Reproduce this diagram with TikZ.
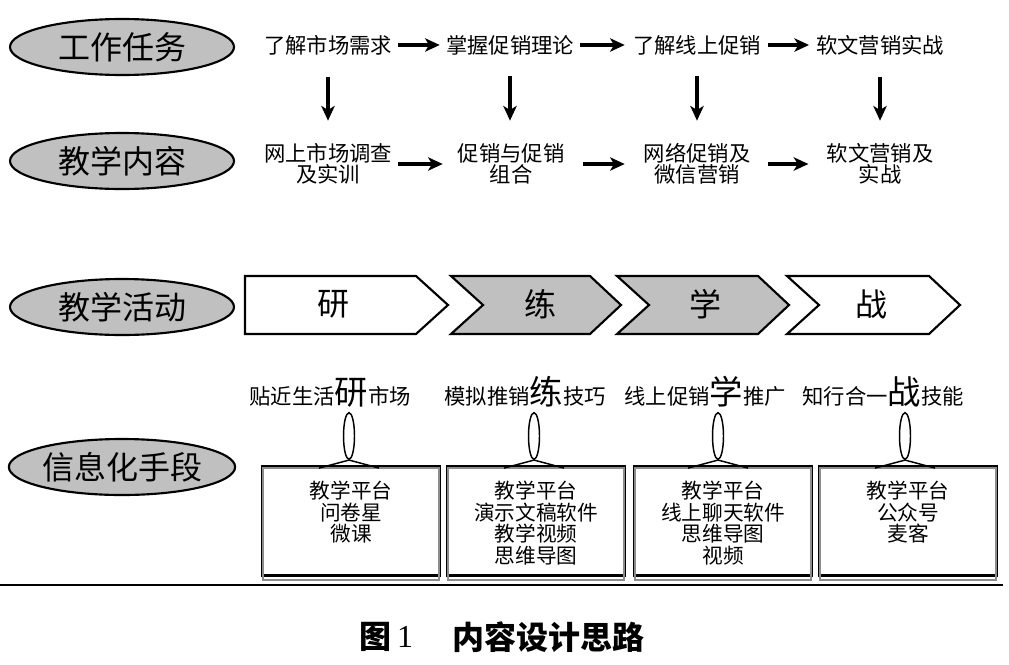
\documentclass[tikz,border=0pt]{standalone}
\usepackage{fontspec}
\setmainfont{Noto Sans CJK SC}
\newfontfamily\hei{Noto Sans CJK SC}
\newfontfamily\tnr{Liberation Serif}
\usetikzlibrary{shapes.geometric,arrows.meta}
\definecolor{lg}{RGB}{192,192,192}
\definecolor{sh}{RGB}{140,140,140}
\newcommand{\bigc}[1]{{\fontsize{25}{25}\selectfont #1}}
\tikzset{
 role/.style={ellipse,draw,line width=1.6pt,fill=lg,minimum width=168pt,minimum height=42pt,inner sep=0pt,font=\fontsize{24}{28}\selectfont},
 txt/.style={inner sep=0pt,font=\fontsize{16}{15.8}\selectfont,align=center},
 conn/.style={line width=2.4pt,-{Stealth[length=11pt,width=10pt,inset=3pt]}},
 chev/.style={draw,line width=1.6pt,line join=miter},
 chtxt/.style={inner sep=0pt,font=\fontsize{24}{28}\selectfont},
 lab/.style={inner sep=0pt,anchor=base,font=\fontsize{16}{20}\selectfont},
 boxn/.style={draw,line width=1.8pt,minimum width=133.5pt,minimum height=82pt,inner sep=0pt},
 boxtxt/.style={inner sep=0pt,anchor=north,font=\fontsize{15.5}{16.1}\selectfont,align=center},
 pinell/.style={ellipse,draw,line width=1.1pt,fill=white,minimum width=8.25pt,minimum height=35pt,inner sep=0pt},
 tent/.style={line width=1.1pt},
 shadow/.style={draw=sh,line width=1.6pt}
}
\begin{document}
\begin{tikzpicture}[x=0.75pt,y=-0.75pt]
\useasboundingbox (0,0) rectangle (1009,664);
% left role ellipses
\node[role] (r1) at (122,47) {工作任务};
\node[role] (r2) at (122,161) {教学内容};
\node[role] (r3) at (122,307) {教学活动};
\node[role] (r4) at (122,467) {信息化手段};
% work tasks
\node[txt] (t1) at (328,45) {了解市场需求};
\node[txt] (t2) at (510,45) {掌握促销理论};
\node[txt] (t3) at (697,45) {了解线上促销};
\node[txt] (t4) at (880,45) {软文营销实战};
% teaching contents
\node[txt] (c1) at (328,164) {网上市场调查\\及实训};
\node[txt] (c2) at (511,164) {促销与促销\\组合};
\node[txt] (c3) at (697,164) {网络促销及\\微信营销};
\node[txt] (c4) at (880,164) {软文营销及\\实战};
% arrows
\draw[conn,shorten <=4.5pt,shorten >=4.5pt] (t1) -- (t2);
\draw[conn,shorten <=4.5pt,shorten >=6pt] (t2) -- (t3);
\draw[conn,shorten <=5pt,shorten >=5pt] (t3) -- (t4);
\draw[conn,shorten <=4.5pt,shorten >=11pt] (c1) -- (c2);
\draw[conn,shorten <=13.5pt,shorten >=14pt] (c2) -- (c3);
\draw[conn,shorten <=13pt,shorten >=13.5pt] (c3) -- (c4);
\foreach \i in {1,2,3,4}{
  \draw[conn,shorten <=16pt,shorten >=32.5pt] (t\i) -- (t\i|-c\i);
}
% chevrons
\draw[chev,fill=white] (245,276) -- (416,276) -- (448,305) -- (416,334) -- (245,334) -- cycle;
\draw[chev,fill=lg] (451,276) -- (590,276) -- (621,305) -- (590,334) -- (451,334) -- (483,305) -- cycle;
\draw[chev,fill=lg] (617,276) -- (758,276) -- (789,305) -- (758,334) -- (617,334) -- (649,305) -- cycle;
\draw[chev,fill=white] (787,276) -- (929,276) -- (960,305) -- (929,334) -- (787,334) -- (819,305) -- cycle;
\node[chtxt] (a1) at (333,304) {研};
\node[chtxt] (a2) at (540,304) {练};
\node[chtxt] (a3) at (705,304) {学};
\node[chtxt] (a4) at (871,304) {战};
% labels
\node[lab] (l1) at (330,404) {贴近生活\bigc{研}市场};
\node[lab] (l2) at (525,404) {模拟推销\bigc{练}技巧};
\node[lab] (l3) at (705,404) {线上促销\bigc{学}推广};
\node[lab] (l4) at (883,404) {知行合一\bigc{战}技能};
% boxes
\node[boxn] (b1) at (351,521) {};
\node[boxn] (b2) at (536,521) {};
\node[boxn] (b3) at (723,521) {};
\node[boxn] (b4) at (908,521) {};
\foreach \i in {1,2,3,4}{
  \draw[shadow] ([shift={(2,3)}]b\i.north west) rectangle ([shift={(-2,3)}]b\i.south east);
}
\node[boxtxt] (bt1) at (351,481) {教学平台\\问卷星\\微课};
\node[boxtxt] (bt2) at (536,481) {教学平台\\演示文稿软件\\教学视频\\思维导图};
\node[boxtxt] (bt3) at (723,481) {教学平台\\线上聊天软件\\思维导图\\视频};
\node[boxtxt] (bt4) at (908,481) {教学平台\\公众号\\麦客};
% pins
\node[pinell] (p1) at (349,436) {};
\node[pinell] (p2) at (534,436) {};
\node[pinell] (p3) at (718,436) {};
\node[pinell] (p4) at (905,436) {};
\foreach \i in {1,2,3,4}{
  \draw[tent] (p\i.south) -- ++(-30,8);
  \draw[tent] (p\i.south) -- ++(30,8);
}
% bottom rule
\draw[line width=2pt] (0,585) -- (1003,585);
% caption
\node[inner sep=0pt,font=\hei\bfseries\fontsize{24}{28}\selectfont] (cap1) at (375,637) {图};
\node[inner sep=0pt,font=\tnr\fontsize{24}{28}\selectfont] (cap2) at (405,637) {1};
\node[inner sep=0pt,font=\hei\bfseries\fontsize{24}{28}\selectfont] (cap3) at (548,637) {内容设计思路};
\end{tikzpicture}
\end{document}
